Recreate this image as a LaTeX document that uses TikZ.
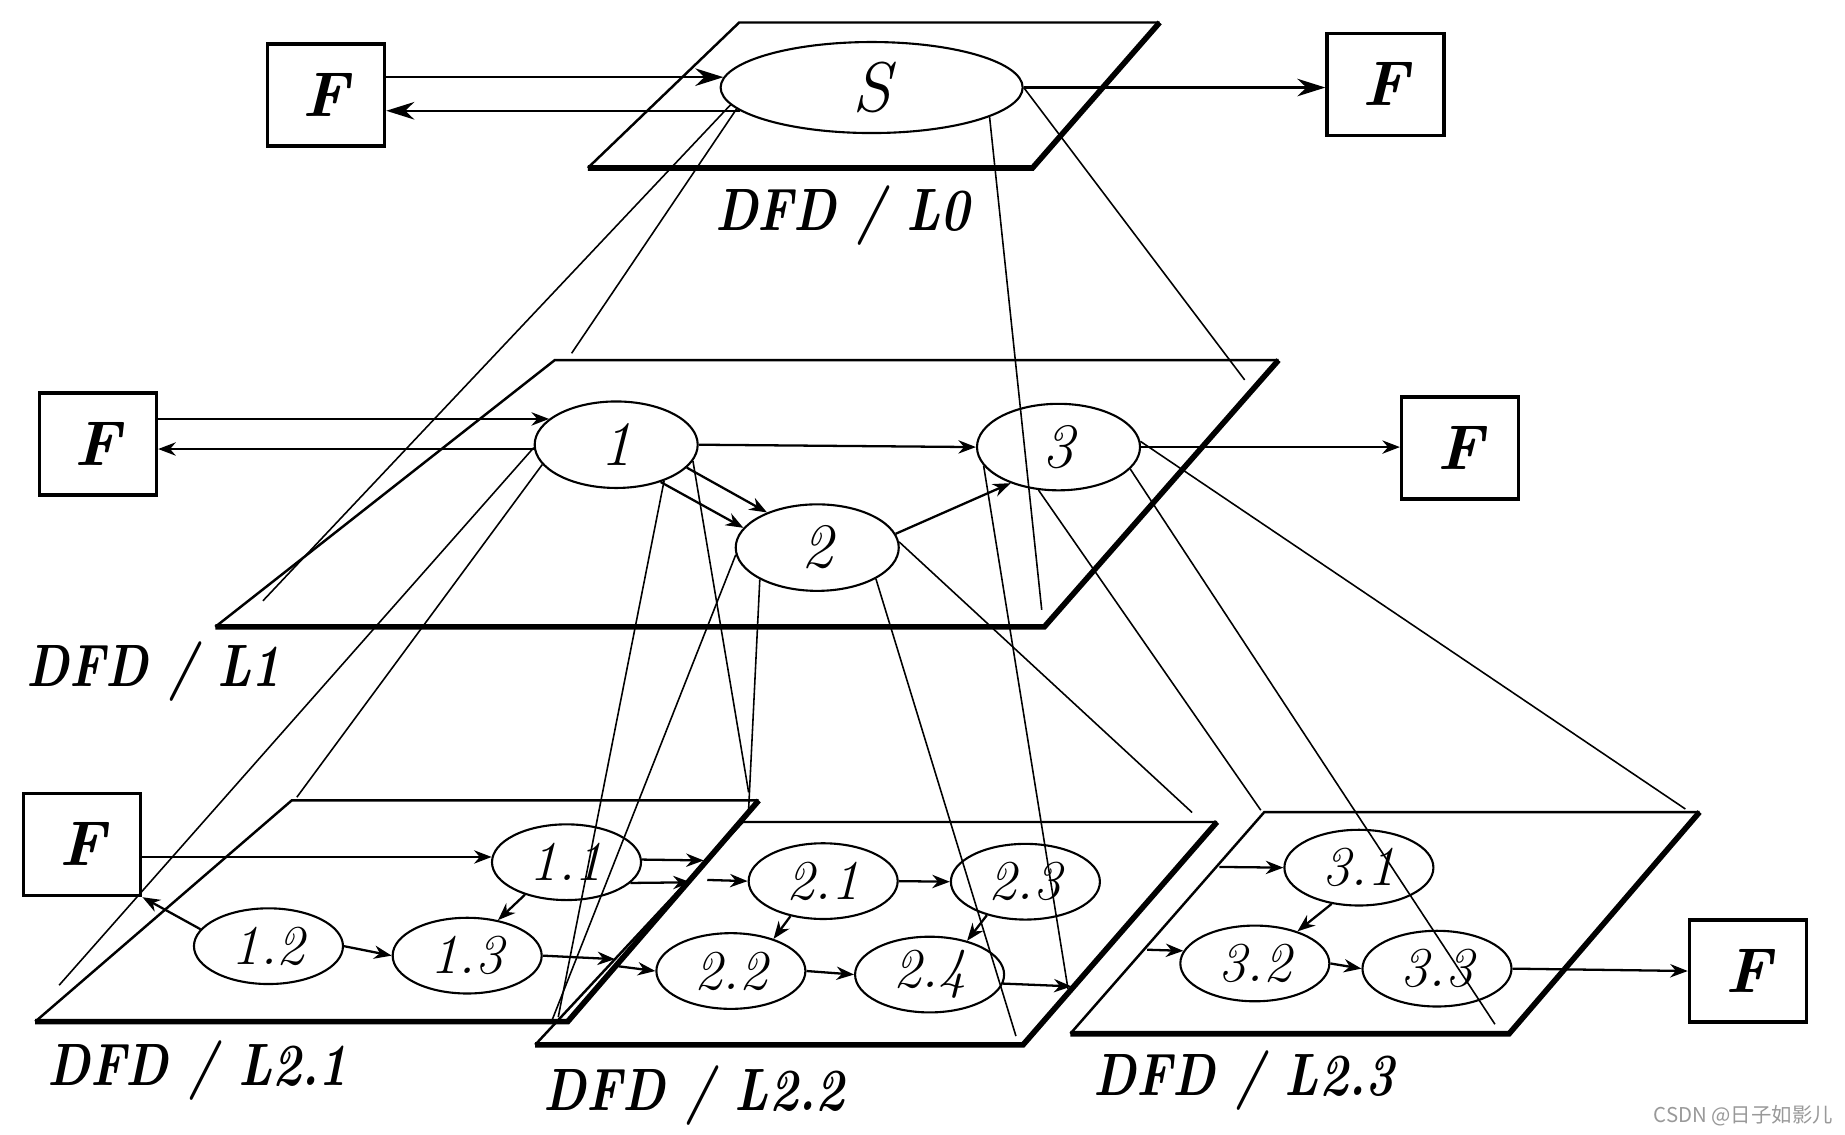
\documentclass[tikz,border=0pt]{standalone}
\usepackage{fontspec}
\usepackage{graphicx}
\usetikzlibrary{shapes.geometric,arrows.meta,calc}
\newfontfamily\cjkfont{Noto Sans CJK SC}

\begin{document}
\begin{tikzpicture}[x=0.01183cm,y=-0.01183cm,
  extbox/.style={draw,line width=1pt,inner sep=0pt,minimum width=1.17cm,minimum height=1.02cm,
    font=\fontsize{18}{20}\selectfont\bfseries\itshape},
  procS/.style={ellipse,draw,line width=0.6pt,inner sep=0pt,minimum width=3.02cm,minimum height=0.91cm,
    font=\fontsize{20}{22}\selectfont\itshape},
  procA/.style={ellipse,draw,line width=0.6pt,inner sep=0pt,minimum width=1.63cm,minimum height=0.865cm,
    font=\fontsize{18}{20}\selectfont\itshape},
  procB/.style={ellipse,draw,line width=0.6pt,inner sep=0pt,minimum width=1.49cm,minimum height=0.757cm,
    font=\fontsize{16}{18}\selectfont\itshape},
  flow/.style={-{Stealth[length=5pt,width=3.8pt]},line width=0.65pt},
  bigflow/.style={-{Stealth[length=8pt,width=5pt]},line width=0.7pt},
  proj/.style={line width=0.45pt},
  rim/.style={line width=0.7pt},
  rimthick/.style={line width=1.6pt},
  lvl/.style={font=\fontsize{17}{20}\selectfont\bfseries\itshape}]

\path[fill=white,use as bounding box] (0,0) rectangle (1560,959);

% planes
\coordinate (l0tl) at (625,19);
\coordinate (l0tr) at (980.5,19);
\coordinate (l0br) at (873,142);
\coordinate (l0bl) at (497,142);
\coordinate (l1tl) at (469,304.5);
\coordinate (l1tr) at (1081,304.5);
\coordinate (l1br) at (883,530);
\coordinate (l1bl) at (182,530);
\coordinate (l21tl) at (246.6,676.8);
\coordinate (l21tr) at (641.5,676.8);
\coordinate (l21br) at (480,863.8);
\coordinate (l21bl) at (29.8,863.8);
\coordinate (l22tl) at (628,695);
\coordinate (l22tr) at (1029,695);
\coordinate (l22br) at (865,883.4);
\coordinate (l22bl) at (452.5,883.4);
\coordinate (l23tl) at (1069,686.6);
\coordinate (l23tr) at (1437,686.6);
\coordinate (l23br) at (1276,874);
\coordinate (l23bl) at (905,874);

\draw[rim] (l0bl) -- (l0tl) -- (l0tr);
\draw[rimthick] (l0tr) -- (l0br) -- (l0bl);
\draw[rim] (l1bl) -- (l1tl) -- (l1tr);
\draw[rimthick] (l1tr) -- (l1br) -- (l1bl);
\draw[rim] (l21bl) -- (l21tl) -- (l21tr);
\draw[rimthick] (l21tr) -- (l21br) -- (l21bl);
\draw[rim] (l22bl) -- (l22tl) -- (l22tr);
\draw[rimthick] (l22tr) -- (l22br) -- (l22bl);
\draw[rim] (l23bl) -- (l23tl) -- (l23tr);
\draw[rimthick] (l23tr) -- (l23br) -- (l23bl);

% externals
\node[extbox] (f0a) at (275.6,80.3) {F};
\node[extbox] (f0b) at (1171.6,71.4) {F};
\node[extbox] (f1a) at (82.8,375.3) {F};
\node[extbox] (f1b) at (1234.6,378.7) {F};
\node[extbox] (f2a) at (69.5,714) {F};
\node[extbox] (f2b) at (1478,821) {F};

% processes
\node[procS] (s) at (737,74) {S};
\node[procA] (n1) at (521,376) {1};
\node[procA] (n2) at (691,463) {2};
\node[procA] (n3) at (895,378) {3};
\node[procB] (n11) at (479,729) {1.1};
\node[procB] (n12) at (227,800) {1.2};
\node[procB] (n13) at (395,808) {1.3};
\node[procB] (n21) at (696,745) {2.1};
\node[procB] (n22) at (618,821) {2.2};
\node[procB] (n23) at (867,745.5) {2.3};
\node[procB] (n24) at (786,824) {2.4};
\node[procB] (n31) at (1149,733.6) {3.1};
\node[procB] (n32) at (1061,814.6) {3.2};
\node[procB] (n33) at (1215,819) {3.3};

% projection ends
\coordinate (sbl) at (222.3,508);
\coordinate (stl) at (483.3,298.7);
\coordinate (sbr) at (880.8,515.6);
\coordinate (str) at (1052.4,321.2);
\coordinate (abl) at (50,833);
\coordinate (atl) at (251,674);
\coordinate (abr) at (472,860);
\coordinate (atr) at (633,670);
\coordinate (btl) at (633,684);
\coordinate (bbl) at (467,862);
\coordinate (bbr) at (859,876);
\coordinate (btr) at (1008,687);
\coordinate (cbl) at (903,836);
\coordinate (ctl) at (1066,685);
\coordinate (cbr) at (1264,866);
\coordinate (ctr) at (1425,684);

\draw[proj] (s.187) -- (sbl);
\draw[proj] (s.189) -- (stl);
\draw[proj] (s.346) -- (sbr);
\draw[proj] (s.east) -- (str);
\draw[proj] (n1.182) -- (abl);
\draw[proj] (n1.195) -- (atl);
\draw[proj] (n1.323) -- (abr);
\draw[proj] (n1.348) -- (atr);
\draw[proj] (n2.209) -- (btl);
\draw[proj] (n2.185) -- (bbl);
\draw[proj] (n2.332) -- (bbr);
\draw[proj] (n2.4) -- (btr);
\draw[proj] (n3.194) -- (cbl);
\draw[proj] (n3.245) -- (ctl);
\draw[proj] (n3.343) -- (cbr);
\draw[proj] (n3.4) -- (ctr);

% flows on L0 and L1
\draw[bigflow] (f0a.east |- s.176) -- (s.176);
\draw[bigflow] (s.190) -- (s.190 -| f0a.east);
\draw[bigflow] (s.east) -- (s.east -| f0b.west);
\draw[flow] (f1a.east |- n1.159) -- (n1.159);
\draw[flow] (n1.183) -- (n1.183 -| f1a.east);
\draw[flow] (n1.east) -- (n3.west);
\draw[flow] (n1.342) -- (n2.145);
\draw[flow] (n1.320) -- (n2.165);
\draw[flow] (n2.10) -- (n3.217);
\draw[flow] (n3.east) -- (n3.east -| f1b.west);

% flows on L2
\coordinate (o11a) at (595,727.5);
\coordinate (o11b) at (584,746);
\coordinate (o13) at (520,811);
\coordinate (i21) at (598,744);
\coordinate (i22) at (523,817);
\coordinate (o24) at (906,834);
\coordinate (i31) at (1031,733);
\coordinate (i32) at (970,803);

\draw[flow] (f2a.east |- n11.176) -- (n11.176);
\draw[flow] (n12.166) -- (f2a.south east);
\draw[flow] (n12.east) -- (n13.west);
\draw[flow] (n11.218) -- (n13.49);
\draw[flow] (n11.2) -- (o11a);
\draw[flow] (n11.342) -- (o11b);
\draw[flow] (n13.east) -- (o13);
\draw[flow] (i21) -- (n21.west);
\draw[flow] (i22) -- (n22.west);
\draw[flow] (n21.east) -- (n23.west);
\draw[flow] (n21.227) -- (n22.37);
\draw[flow] (n23.221) -- (n24.42);
\draw[flow] (n22.east) -- (n24.west);
\draw[flow] (n24.353) -- (o24);
\draw[flow] (i31) -- (n31.west);
\draw[flow] (i32) -- (n32.170);
\draw[flow] (n31.233) -- (n32.37);
\draw[flow] (n32.east) -- (n33.west);
\draw[flow] (n33.east) -- (f2b.west);

% level names
\node[lvl] (t0) at (712,182) {\scalebox{0.82}[1]{DFD / L0}};
\node[lvl] (t1) at (130,568) {\scalebox{0.82}[1]{DFD / L1}};
\node[lvl] (t21) at (167,905) {\scalebox{0.82}[1]{DFD / L2.1}};
\node[lvl] (t22) at (587,926) {\scalebox{0.82}[1]{DFD / L2.2}};
\node[lvl] (t23) at (1052,914) {\scalebox{0.82}[1]{DFD / L2.3}};

\node[text=gray!80,font=\cjkfont\fontsize{5.8}{7}\selectfont] (mark) at (1474,943) {CSDN @日子如影儿};
\end{tikzpicture}
\end{document}
